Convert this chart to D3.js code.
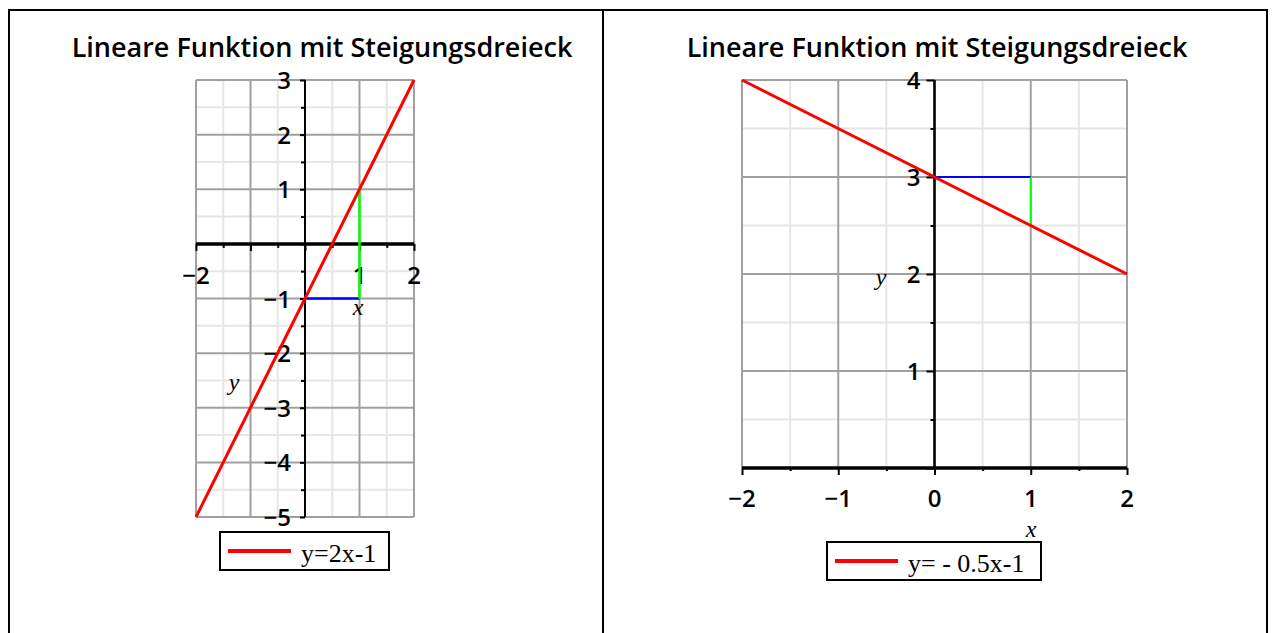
<!DOCTYPE html>
<html>
<head>
<meta charset="utf-8">
<script src="https://cdn.jsdelivr.net/npm/d3@7"></script>
<style>
  body { margin: 0; background: #fff; }
  svg { display: block; }
  .title { font-family: "Open Sans", sans-serif; font-weight: 600; font-size: 27px; }
  .tick-label { font-family: "Open Sans", sans-serif; font-weight: 600; font-size: 24px; }
  .axis-name { font-family: "Liberation Serif", serif; font-style: italic; font-size: 24px; }
  .legend-text { font-family: "Liberation Serif", serif; font-size: 26px; }
</style>
</head>
<body>
<div id="chart"></div>
<script>
// chart data
const titles = ["Lineare Funktion mit Steigungsdreieck", "Lineare Funktion mit Steigungsdreieck"];
const legendLabels = ["y=2x-1", "y= - 0.5x-1"];

// left plot: y = 2x - 1
const leftXDomain = [-2, 2];
const leftYDomain = [-5, 3];
const leftXTickLabels = [-2, 1, 2];
const leftYTickLabels = [3, 2, 1, -1, -2, -3, -4, -5];
const leftLine = [[-2, -5], [2, 3]];
const leftRun = [[0, -1], [1, -1]];
const leftRise = [[1, -1], [1, 1]];

// right plot: the drawn line goes from (-2, 4) to (2, 2)
const rightXDomain = [-2, 2];
const rightYDomain = [0, 4];
const rightXTickLabels = [-2, -1, 0, 1, 2];
const rightYTickLabels = [1, 2, 3, 4];
const rightLine = [[-2, 4], [2, 2]];
const rightRun = [[0, 3], [1, 3]];
const rightRise = [[1, 3], [1, 2.5]];

const W = 1272, H = 633;

const svg = d3.select('#chart').append('svg')
  .attr('width', W)
  .attr('height', H);

// table borders
svg.append('path')
  .attr('d', `M9,${H} V10 H1267 V${H} M603,10 V${H}`)
  .attr('fill', 'none')
  .attr('stroke', '#000')
  .attr('stroke-width', 2);

const fmt = d => (d < 0 ? '\u2212' : '') + Math.abs(d);

function drawPlot(cfg) {
  const g = svg.append('g');

  const x = d3.scaleLinear().domain(cfg.xDomain).range(cfg.xRange);
  const y = d3.scaleLinear().domain(cfg.yDomain).range(cfg.yRange);

  g.append('text')
    .attr('class', 'title')
    .attr('x', cfg.titleX)
    .attr('y', 57)
    .attr('text-anchor', 'middle')
    .text(cfg.title);

  const halfX = d3.range(cfg.xDomain[0], cfg.xDomain[1] + 0.01, 0.5);
  const halfY = d3.range(cfg.yDomain[0], cfg.yDomain[1] + 0.01, 0.5);
  const isMajor = v => Math.abs(v - Math.round(v)) < 1e-6;

  // minor grid first, then major
  [false, true].forEach(major => {
    g.append('g').selectAll('line')
      .data(halfX.filter(v => isMajor(v) === major))
      .join('line')
      .attr('x1', d => x(d)).attr('x2', d => x(d))
      .attr('y1', cfg.yRange[0]).attr('y2', cfg.yRange[1])
      .attr('stroke', major ? '#a0a0a0' : '#e6e6e6')
      .attr('stroke-width', 2);
    g.append('g').selectAll('line')
      .data(halfY.filter(v => isMajor(v) === major))
      .join('line')
      .attr('y1', d => y(d)).attr('y2', d => y(d))
      .attr('x1', cfg.xRange[0]).attr('x2', cfg.xRange[1])
      .attr('stroke', major ? '#a0a0a0' : '#e6e6e6')
      .attr('stroke-width', 2);
  });

  // axes with major and minor ticks
  const x0 = x(0), y0 = y(Math.max(0, cfg.yDomain[0]));

  const xAxisMajor = d3.axisBottom(x).tickValues(halfX.filter(isMajor)).tickSize(cfg.xTickMajor).tickFormat('');
  const xAxisMinor = d3.axisBottom(x).tickValues(halfX.filter(v => !isMajor(v))).tickSize(cfg.xTickMinor).tickFormat('');
  const yAxisMajor = d3.axisLeft(y).tickValues(halfY.filter(isMajor)).tickSize(cfg.yTickMajor).tickFormat('');
  const yAxisMinor = d3.axisLeft(y).tickValues(halfY.filter(v => !isMajor(v))).tickSize(cfg.yTickMinor).tickFormat('');

  [xAxisMajor, xAxisMinor].forEach(ax => {
    g.append('g').attr('transform', `translate(0,${y0})`).call(ax)
      .call(s => s.select('.domain').attr('stroke-width', 3).attr('d', `M${cfg.xRange[0]},0H${cfg.xRange[1]}`))
      .call(s => s.selectAll('.tick line').attr('stroke-width', 2));
  });
  [yAxisMajor, yAxisMinor].forEach(ax => {
    g.append('g').attr('transform', `translate(${x0},0)`).call(ax)
      .call(s => s.select('.domain').attr('stroke-width', 2).attr('d', `M0,${cfg.yRange[0]}V${cfg.yRange[1]}`))
      .call(s => s.selectAll('.tick line').attr('stroke-width', 2));
  });

  // tick labels
  g.append('g').selectAll('text')
    .data(cfg.xLabels)
    .join('text')
    .attr('class', 'tick-label')
    .attr('x', d => x(d))
    .attr('y', y0 + cfg.xLabelDy)
    .attr('text-anchor', 'middle')
    .text(fmt);

  g.append('g').selectAll('text')
    .data(cfg.yLabels)
    .join('text')
    .attr('class', 'tick-label')
    .attr('x', x0 - 14)
    .attr('y', d => y(d) + 9)
    .attr('text-anchor', 'end')
    .text(fmt);

  // function line and slope triangle
  const line = d3.line().x(d => x(d[0])).y(d => y(d[1]));

  g.append('path').datum(cfg.run).attr('d', line)
    .attr('fill', 'none').attr('stroke', '#0000ff').attr('stroke-width', cfg.triWidth);
  g.append('path').datum(cfg.rise).attr('d', line)
    .attr('fill', 'none').attr('stroke', '#00ff00').attr('stroke-width', cfg.triWidth);
  g.append('path').datum(cfg.line).attr('d', line)
    .attr('fill', 'none').attr('stroke', '#ff0000').attr('stroke-width', 3);

  // axis names
  g.append('text').attr('class', 'axis-name')
    .attr('x', cfg.xName[0]).attr('y', cfg.xName[1])
    .attr('text-anchor', 'middle').text('x');
  g.append('text').attr('class', 'axis-name')
    .attr('x', cfg.yName[0]).attr('y', cfg.yName[1])
    .attr('text-anchor', 'middle').text('y');

  // legend
  const lg = g.append('g').attr('transform', `translate(${cfg.legend[0]},${cfg.legend[1]})`);
  lg.append('rect')
    .attr('width', cfg.legend[2]).attr('height', 38)
    .attr('fill', '#fff').attr('stroke', '#000').attr('stroke-width', 2);
  lg.append('line')
    .attr('x1', 8).attr('x2', 71).attr('y1', 19).attr('y2', 19)
    .attr('stroke', '#ff0000').attr('stroke-width', 4);
  lg.append('text').attr('class', 'legend-text')
    .attr('x', 81).attr('y', 30)
    .text(cfg.legendLabel);
}

drawPlot({
  title: titles[0], titleX: 322,
  xDomain: leftXDomain, yDomain: leftYDomain,
  xRange: [196, 414], yRange: [517, 80],
  xLabels: leftXTickLabels, yLabels: leftYTickLabels,
  xLabelDy: 40, xTickMajor: 7, xTickMinor: 4, yTickMajor: 5, yTickMinor: 4,
  line: leftLine, run: leftRun, rise: leftRise, triWidth: 2.5,
  xName: [358, 315], yName: [234, 390],
  legend: [220, 532, 169], legendLabel: legendLabels[0]
});

drawPlot({
  title: titles[1], titleX: 937,
  xDomain: rightXDomain, yDomain: rightYDomain,
  xRange: [742, 1127], yRange: [468, 80],
  xLabels: rightXTickLabels, yLabels: rightYTickLabels,
  xLabelDy: 39, xTickMajor: 7, xTickMinor: 3, yTickMajor: 8, yTickMinor: 4,
  line: rightLine, run: rightRun, rise: rightRise, triWidth: 1.8,
  xName: [1031, 537], yName: [881, 285],
  legend: [827, 542, 214], legendLabel: legendLabels[1]
});
</script>
</body>
</html>
